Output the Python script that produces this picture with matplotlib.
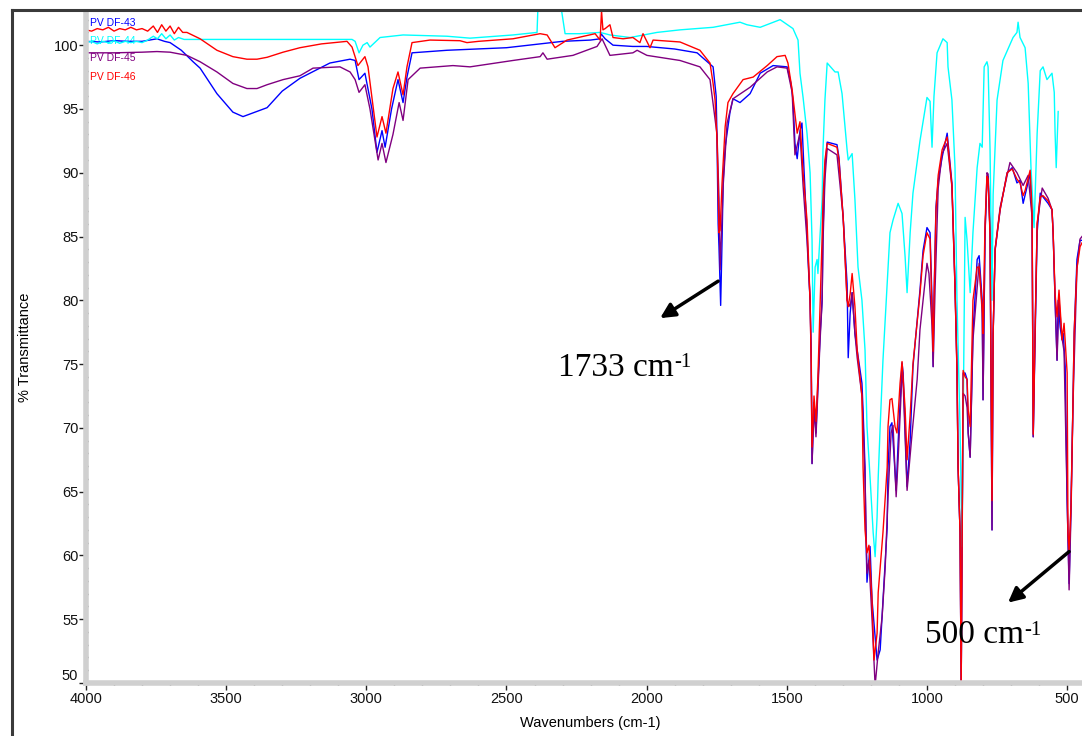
import matplotlib
matplotlib.use("Agg")
import matplotlib.pyplot as plt
from matplotlib.lines import Line2D
import matplotlib.transforms as mtransforms
import numpy as np

plt.rcParams['font.family'] = ['Liberation Sans', 'DejaVu Sans']

# ---------------- data (wavenumber cm-1, %T) ----------------
series_names = ["PV DF-43", "PV DF-44", "PV DF-45", "PV DF-46"]
series_colors = ["#0000ff", "#00ffff", "#800080", "#ff0000"]

pv_df43 = [(4000,100.3),(3950,100.25),(3900,100.35),(3850,100.3),(3800,100.3),(3747,100.5),(3720,100.3),(3700,100.2),
    (3660,99.6),(3618,98.7),(3593,98.2),(3533,96.2),(3476,94.75),(3440,94.4),(3354,95.1),(3300,96.4),(3237,97.4),
    (3130,98.6),(3058,98.9),(3040,98.8),(3026,97.3),(3005,97.8),(2980,95.0),(2962,91.6),(2944,93.3),(2933,92.0),
    (2910,95.0),(2887,97.3),(2869,95.5),(2855,97.5),(2837,99.4),(2712,99.6),(2500,99.8),(2380,100.1),(2300,100.3),
    (2200,100.4),(2166,100.5),(2163,100.9),(2148,100.5),(2120,100.0),(2050,99.9),(2000,99.9),(1900,99.7),(1820,99.4),
    (1763,98.3),(1752,96.0),(1749,92.6),(1745,86.0),(1742,84.2),(1736,79.6),(1731,84.7),(1727,89.4),(1720,92.0),
    (1703,94.7),(1692,95.8),(1667,95.5),(1631,96.2),(1595,97.8),(1549,98.4),(1499,98.3),(1485,97.0),(1478,95.7),
    (1471,92.3),(1463,91.1),(1453,93.3),(1446,93.9),(1439,90.4),(1428,85.3),(1417,80.0),(1413,76.1),(1410,67.2),
    (1403,72.0),(1396,69.6),(1389,73.5),(1381,77.4),(1374,80.0),(1371,85.3),(1364,90.4),(1356,92.4),(1321,92.2),
    (1314,91.2),(1299,86.5),(1285,81.3),(1281,75.5),(1274,79.0),(1267,80.6),(1257,77.4),(1249,76.1),(1232,73.5),
    (1228,71.4),(1221,66.9),(1218,61.8),(1214,57.9),(1203,60.7),(1196,56.5),(1178,51.8),(1167,52.6),(1157,56.5),
    (1142,62.2),(1139,66.9),(1132,70.1),(1125,70.4),(1110,65.1),(1103,68.8),(1089,75.1),(1085,74.3),(1071,65.4),
    (1060,69.0),(1050,74.8),(1025,80.8),(1014,83.9),(1000,85.7),(989,85.3),(982,80.0),(978,74.8),(975,80.0),
    (968,87.3),(960,89.4),(946,91.2),(928,93.1),(911,89.2),(900,81.3),(893,74.8),(889,66.9),(882,61.8),(878,49.8),
    (871,74.3),(864,74.3),(857,73.8),(853,69.6),(846,67.7),(836,77.4),(821,83.2),(814,83.5),(803,80.0),(800,72.2),
    (793,85.3),(786,89.4),(782,89.7),(775,85.3),(768,62.0),(764,77.4),(757,83.9),(739,87.1),(714,90.0),(696,90.4),
    (679,89.2),(668,89.4),(657,87.6),(643,88.9),(632,90.0),(625,86.5),(621,69.3),(614,77.4),(607,85.3),(596,88.4),
    (586,88.1),(568,87.6),(554,87.1),(550,85.3),(543,80.0),(536,75.3),(532,80.0),(525,77.9),(518,76.9),(514,77.4),
    (507,74.8),(500,64.3),(493,57.8),(486,64.3),(479,72.2),(475,77.4),(465,83.2),(454,84.7),(447,84.7)]

pv_df44 = [(4000,100.2),(3980,100.3),(3960,100.1),(3940,100.3),(3920,100.2),(3900,100.35),(3880,100.15),(3860,100.3),
    (3840,100.2),(3820,100.3),(3800,100.2),(3780,100.4),(3760,100.7),(3745,100.5),(3730,100.9),(3715,100.5),
    (3700,100.8),(3685,100.4),(3670,100.6),(3650,100.45),(3400,100.45),(3100,100.45),(3051,100.45),(3040,100.3),
    (3026,99.4),(3012,100.0),(2997,100.2),(2987,99.85),(2951,100.6),(2869,100.8),(2712,100.7),(2630,100.55),
    (2477,100.8),(2391,101.0),(2387,103.5),(2309,103.5),(2291,100.9),(2238,100.9),(2166,101.0),(2131,100.8),
    (2059,100.6),(1963,101.0),(1881,101.2),(1763,101.4),(1667,101.8),(1642,101.6),(1595,101.4),(1524,102.0),
    (1478,101.3),(1460,100.4),(1453,97.8),(1442,95.9),(1428,93.1),(1417,90.0),(1410,84.7),(1406,77.5),(1399,82.6),
    (1392,83.2),(1389,82.1),(1381,85.3),(1374,87.9),(1371,91.8),(1364,95.7),(1356,98.6),(1328,97.9),(1317,97.9),
    (1303,96.2),(1285,91.8),(1281,91.0),(1267,91.5),(1257,87.9),(1246,82.6),(1232,80.0),(1221,76.1),(1214,70.1),
    (1203,66.1),(1192,61.8),(1185,59.9),(1178,63.0),(1174,66.1),(1167,70.1),(1157,75.3),(1142,81.3),(1132,85.3),
    (1121,86.3),(1103,87.6),(1089,86.8),(1078,83.4),(1071,80.6),(1060,85.3),(1050,88.4),(1025,92.5),(1000,95.9),
    (989,95.6),(982,92.0),(975,96.0),(964,99.4),(943,100.5),(928,100.2),(925,98.3),(911,95.7),(900,90.4),(893,80.0),
    (882,70.0),(875,60.7),(871,70.0),(864,86.5),(857,84.7),(846,80.6),(836,85.3),(821,90.4),(811,92.3),(803,92.0),
    (796,98.3),(786,98.7),(782,98.3),(775,91.8),(768,80.0),(764,88.3),(750,95.7),(729,98.8),(693,100.6),(679,101.0),
    (675,101.8),(668,100.6),(650,99.8),(639,97.0),(629,90.4),(618,85.7),(607,93.1),(596,98.0),(586,98.3),(572,97.3),
    (554,97.8),(546,96.3),(543,93.1),(539,90.4),(532,94.8)]

pv_df45 = [(4000,99.4),(3900,99.4),(3800,99.45),(3747,99.5),(3700,99.45),(3640,99.2),(3593,98.7),(3533,97.9),
    (3476,97.0),(3426,96.6),(3390,96.6),(3354,96.9),(3297,97.3),(3237,97.6),(3190,98.2),(3094,98.3),(3058,97.9),
    (3040,97.3),(3026,96.3),(3005,96.9),(2987,95.0),(2958,91.0),(2944,92.3),(2930,90.8),(2905,93.0),(2883,95.5),
    (2869,94.1),(2851,97.3),(2808,98.2),(2691,98.4),(2630,98.3),(2477,98.8),(2380,99.1),(2370,99.4),(2355,98.9),
    (2263,99.2),(2177,99.9),(2159,100.5),(2131,99.2),(2049,99.4),(2034,99.6),(1999,99.2),(1881,98.8),(1810,98.3),
    (1774,97.3),(1749,93.0),(1742,88.0),(1738,82.4),(1727,89.0),(1713,93.9),(1692,95.8),(1631,96.7),(1570,97.9),
    (1535,98.3),(1499,98.2),(1481,96.3),(1471,91.4),(1453,93.1),(1442,89.0),(1428,84.7),(1417,80.0),(1413,75.0),
    (1410,67.2),(1403,71.5),(1396,69.3),(1389,73.0),(1381,77.0),(1374,80.0),(1371,84.5),(1364,89.5),(1356,91.9),
    (1321,91.4),(1310,89.0),(1299,86.5),(1285,80.0),(1274,79.5),(1267,80.6),(1257,77.4),(1249,75.5),(1232,72.5),
    (1228,70.5),(1221,66.0),(1214,58.6),(1207,59.6),(1196,55.0),(1185,49.8),(1174,52.4),(1160,55.2),(1149,59.1),
    (1139,64.6),(1128,69.6),(1121,70.2),(1110,64.6),(1103,67.5),(1089,74.3),(1085,73.5),(1071,65.1),(1053,69.6),
    (1035,73.8),(1025,77.7),(1014,80.0),(1000,82.9),(993,82.1),(982,78.0),(978,74.8),(971,81.0),(960,88.8),
    (946,91.5),(928,92.3),(911,88.9),(900,81.0),(893,74.5),(889,66.9),(882,61.8),(878,49.8),(871,72.7),(864,72.5),
    (857,71.6),(853,69.6),(846,67.7),(836,76.9),(814,82.9),(803,79.0),(800,72.2),(793,85.0),(786,90.0),(782,89.9),
    (775,85.3),(768,62.0),(764,77.4),(757,84.0),(739,87.3),(704,90.8),(679,90.0),(657,89.0),(639,89.8),(625,86.5),
    (621,69.3),(614,78.0),(607,86.0),(589,88.8),(568,88.0),(554,87.1),(550,85.3),(543,80.0),(536,75.3),(529,80.0),
    (518,77.0),(511,76.0),(500,64.3),(493,57.3),(486,63.5),(479,72.0),(465,82.5),(454,84.8),(447,85.0)]

pv_df46 = [(4000,101.2),(3980,101.1),(3960,101.3),(3940,101.2),(3920,101.4),(3900,101.1),(3880,101.3),(3860,101.2),
    (3840,101.4),(3820,101.2),(3800,101.3),(3780,101.1),(3760,101.5),(3745,101.0),(3730,101.6),(3715,101.1),
    (3700,101.5),(3685,100.9),(3670,101.4),(3655,101.0),(3640,101.0),(3593,100.5),(3533,99.6),(3476,99.1),
    (3426,98.9),(3390,98.9),(3354,99.05),(3297,99.45),(3237,99.8),(3160,100.1),(3069,100.3),(3051,99.85),
    (3030,98.4),(3005,99.1),(2994,98.3),(2962,92.8),(2944,94.4),(2930,93.1),(2905,96.6),(2887,97.9),(2869,96.1),
    (2855,98.3),(2837,100.2),(2773,100.4),(2666,100.35),(2641,100.2),(2600,100.3),(2477,100.5),(2380,100.9),
    (2355,100.8),(2327,99.8),(2284,100.4),(2184,100.9),(2166,100.4),(2161,102.7),(2156,101.2),(2148,101.3),
    (2131,101.6),(2120,100.6),(2084,100.5),(2049,100.6),(2024,100.2),(2013,100.9),(1988,99.8),(1977,100.4),
    (1881,100.25),(1810,99.6),(1774,98.6),(1763,97.0),(1756,95.7),(1749,92.6),(1745,89.0),(1742,85.3),(1738,85.5),
    (1731,89.2),(1720,93.6),(1710,95.5),(1692,96.2),(1656,97.3),(1620,97.5),(1570,98.4),(1535,99.1),(1506,99.2),
    (1496,98.6),(1481,96.5),(1463,93.1),(1453,94.0),(1442,90.0),(1428,86.3),(1417,80.0),(1413,75.0),(1410,68.5),
    (1403,72.5),(1396,70.5),(1389,74.0),(1381,80.0),(1374,85.0),(1371,87.9),(1364,91.0),(1356,92.3),(1321,92.0),
    (1314,91.0),(1299,86.5),(1285,80.0),(1281,79.5),(1274,80.5),(1267,82.1),(1257,79.5),(1249,76.1),(1232,72.5),
    (1228,66.9),(1221,62.0),(1214,60.2),(1207,60.8),(1196,56.5),(1189,51.8),(1178,53.9),(1174,57.1),(1157,61.8),
    (1142,66.9),(1139,70.1),(1132,72.2),(1125,72.3),(1114,70.1),(1107,69.6),(1096,73.5),(1089,75.2),(1078,71.5),
    (1071,67.5),(1060,71.0),(1050,75.0),(1025,80.5),(1014,83.5),(1000,85.3),(989,84.8),(982,79.0),(978,76.0),
    (975,80.0),(968,87.0),(960,89.8),(946,91.8),(928,92.8),(911,89.0),(900,81.0),(893,74.5),(889,66.9),(882,61.8),
    (878,49.8),(871,74.5),(864,74.0),(857,73.8),(853,71.4),(846,70.1),(836,80.0),(821,82.6),(814,82.6),(803,79.5),
    (800,77.4),(793,86.0),(786,89.7),(782,89.5),(775,85.0),(768,64.3),(764,77.4),(757,84.0),(739,87.1),(714,90.0),
    (696,90.3),(679,89.5),(668,89.2),(657,88.2),(650,88.6),(632,90.2),(625,87.0),(621,69.5),(614,78.0),(607,86.0),
    (596,88.1),(586,88.2),(568,87.8),(554,87.1),(550,85.3),(543,80.5),(536,78.7),(529,80.8),(518,76.9),(511,78.2),
    (500,74.3),(497,61.8),(493,60.4),(486,64.0),(479,72.2),(475,77.5),(465,82.5),(454,84.2),(447,84.5)]

x_ticks = [4000, 3500, 3000, 2500, 2000, 1500, 1000, 500]
y_ticks = [50, 55, 60, 65, 70, 75, 80, 85, 90, 95, 100]

peak_labels = ["1733 cm", "500 cm"]
peak_superscript = "-1"
peak_arrow_tail = [(1745, 81.5), (493, 60.3)]
peak_arrow_head = [(1952, 78.6), (711, 56.3)]
peak_text_pos = [(2316, 74.1), (1007, 53.1)]

# ---------------- figure ----------------
W, H = 1082, 736
fig = plt.figure(figsize=(W / 100, H / 100), dpi=100)
ax = fig.add_axes([86 / W, 1 - 683 / H, (W - 86) / W, (683 - 12) / H])

draw_order = [0, 2, 3, 1]
data = [pv_df43, pv_df44, pv_df45, pv_df46]
for i in draw_order:
    wn = [p[0] for p in data[i]]
    t = [p[1] for p in data[i]]
    ax.plot(wn, t, color=series_colors[i], lw=1.0, zorder=2 + i * 0.1)

ax.set_xlim(4000, 447)
ax.set_ylim(50.0, 102.6)

ax.set_xticks(x_ticks)
ax.set_xticks(np.arange(500, 4001, 100), minor=True)
ax.set_yticks(y_ticks)
ax.set_yticklabels([''] + [str(v) for v in y_ticks[1:]])
ax.set_yticks(np.arange(50, 103, 1), minor=True)

for s in ['top', 'right']:
    ax.spines[s].set_visible(False)
for s in ['left', 'bottom']:
    ax.spines[s].set_color('#d0d0d0')
    ax.spines[s].set_linewidth(4)

ax.tick_params(which='major', direction='out', length=5, width=1.0, color='#222222',
               labelsize=10.5, labelcolor='#111111')
ax.tick_params(axis='y', which='major', pad=0.5)
ax.tick_params(axis='x', which='major', pad=1.5)
ax.tick_params(which='minor', direction='inout', length=3, width=1.0, color='#333333')

ax.text(-0.008, 50, "50", transform=mtransforms.blended_transform_factory(ax.transAxes, ax.transData),
        ha='right', va='bottom', fontsize=10.5, color='#111111')

ax.set_xlabel("Wavenumbers (cm-1)", fontsize=10.5)
ax.set_ylabel("% Transmittance", fontsize=10.5)
ax.xaxis.set_label_coords(0.506, -0.049)
ax.yaxis.set_label_coords(-0.054, 0.5)

# series name labels (as in the instrument output)
label_y = [101.7, 100.3, 99.0, 97.5]
for i, name in enumerate(series_names):
    ax.text(3985, label_y[i], name, color=series_colors[i], fontsize=7.5, ha='left', va='center', zorder=1)

# annotations
for lab, tail, head, tp in zip(peak_labels, peak_arrow_tail, peak_arrow_head, peak_text_pos):
    ax.annotate('', xy=head, xytext=tail,
                arrowprops=dict(arrowstyle='-|>', lw=2.5, color='black', mutation_scale=22,
                                shrinkA=0, shrinkB=0), zorder=5)
    main = ax.text(tp[0], tp[1], lab, fontsize=24, family='Liberation Serif', ha='left', va='baseline', zorder=5)
    ax.annotate(peak_superscript, xy=(1.0, 0.97), xycoords=main, fontsize=15, family='Liberation Serif',
                ha='left', va='top', zorder=5)

# outer frame (left and top edges)
fig.add_artist(Line2D([12 / W, 12 / W], [0, 1 - 10 / H], transform=fig.transFigure, color='#3a3a3a', lw=2.2))
fig.add_artist(Line2D([12 / W, 1], [1 - 10 / H, 1 - 10 / H], transform=fig.transFigure, color='#3a3a3a', lw=2.2))

fig.savefig("out.png", dpi=100)
